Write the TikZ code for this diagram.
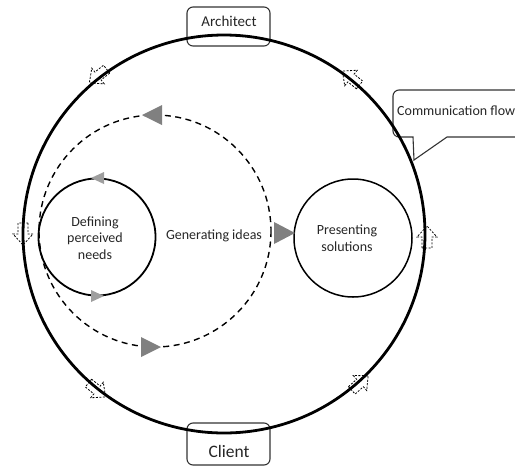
\documentclass[tikz,border=0pt]{standalone}
\usepackage{fontspec}
\setmainfont{Carlito}
\begin{document}
\begin{tikzpicture}[x=1pt,y=-1pt,
  txt/.style={text=black!85, align=center, inner sep=0pt, font=\fontsize{14}{16.5}\selectfont},
  labelbox/.style={draw=black!80, line width=1.1pt, rounded corners=6pt},
  bigring/.style={line width=2.8pt},
  ring/.style={draw, circle, line width=1.8pt, inner sep=0pt},
  dashring/.style={line width=1.4pt, dash pattern=on 6pt off 4.5pt},
  tri/.style={fill=black!50, draw=none},
  tril/.style={fill=black!38, draw=none},
  hollowarrow/.pic={\draw[line width=0.8pt, dash pattern=on 2pt off 1.5pt, line join=miter]
     (-11,-5) -- (0,-5) -- (0,-10) -- (11,0) -- (0,10) -- (0,5) -- (-11,5) -- cycle;}
]
\useasboundingbox (0,0) rectangle (515,467);
\clip (0,0) rectangle (515,467);

% label boxes
\draw[labelbox] (187,7) rectangle (270,46);
\node[txt, font=\fontsize{15}{17}\selectfont] (arch) at (229,21) {Architect};
\draw[labelbox] (187,423) rectangle (270,465);
\node[txt, font=\fontsize{17.5}{20}\selectfont] (client) at (229,451) {Client};

% callout
\draw[draw=black!80, line width=1.1pt] (414,160) -- (413,137)
   [rounded corners=6pt] -- (393,137) -- (393,90) -- (540,90) -- (540,137) [sharp corners] -- (447,137) -- cycle;
\node[txt, anchor=west] (comm) at (397,111) {Communication flow};

% big circle
\coordinate (c0) at (224,234);
\draw[bigring] (c0) ellipse [x radius=201, y radius=199];

% hollow dashed arrows on the big circle
\pic[rotate=-90] at (23,234) {hollowarrow};
\pic[rotate=90] at (427,237) {hollowarrow};
\pic[rotate=141] at (351,78) {hollowarrow};
\pic[rotate=218.5] at (98,76) {hollowarrow};
\pic[rotate=321] at (97,390) {hollowarrow};
\pic[rotate=42] at (360,383) {hollowarrow};

% dashed circle
\draw[dashring] (155,231) circle [radius=116];

% inner circles
\node[ring, minimum size=117pt] (def) at (97,237) {};
\node[ring, line width=1.5pt, minimum size=118pt] (pres) at (353,238) {};

\node[txt] (deft) at (95,238) {Defining\\perceived\\needs};
\node[txt] (gen) at (214,236) {Generating ideas};
\node[txt] (prest) at (347,238) {Presenting\\solutions};

% gray triangles
\fill[tri] (142,115) -- (162,105) -- (162,125) -- cycle;
\fill[tri] (161,347) -- (141,337) -- (141,357) -- cycle;
\fill[tri] (295,233) -- (274,222) -- (274,244) -- cycle;
\fill[tril] (91,178) -- (104,172) -- (104,184) -- cycle;
\fill[tril] (104,296) -- (91,290) -- (91,302) -- cycle;
\end{tikzpicture}
\end{document}
